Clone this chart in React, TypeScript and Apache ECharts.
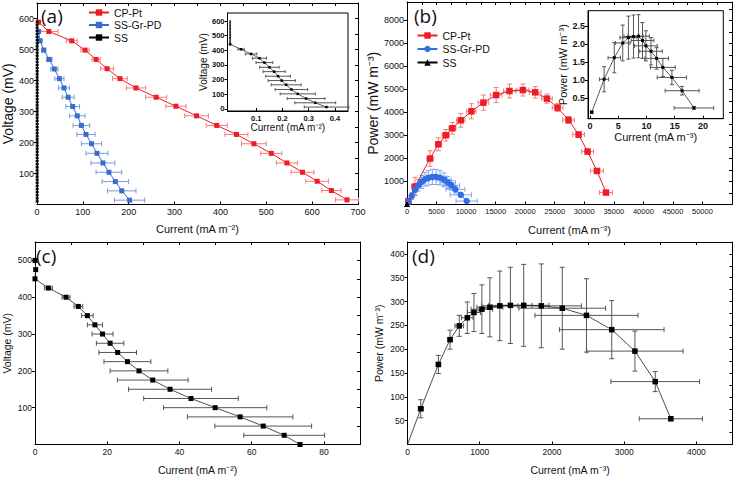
import React, { useEffect, useRef } from 'react';
import * as echarts from 'echarts';

// ---------------- Panel (a): polarization (main) ----------------
const aCpPtCurrent = [3.6, 26, 76, 105, 129, 153, 181, 216, 260, 303, 348, 392, 435, 473, 511, 545, 579, 611, 642, 676];
const aCpPtVoltage = [588, 558, 528, 498, 468, 438, 406, 376, 346, 317, 286, 255, 226, 196, 165, 134, 104, 75, 45, 15];
const aCpPtErr = [0, 20, 12, 9, 9, 14, 16, 21, 23, 22, 26, 23, 25, 27, 23, 23, 25, 25, 21, 25];

const aGrCurrent = [3.6, 7, 15, 27, 38, 49, 59, 68, 78, 88, 97, 107, 119, 131, 144, 157, 171, 185, 202];
const aGrVoltage = [558, 528, 498, 468, 437, 406, 376, 346, 316, 286, 255, 226, 196, 165, 134, 104, 74, 44, 14];
const aGrErr = [0, 2.5, 4, 6, 8, 10, 12, 13, 15, 17, 18, 20, 22, 24, 26, 28, 29, 31, 33];

const aSsVoltage = [590, 580, 570, 560, 550, 540, 530, 520, 510, 500, 490, 480, 470, 460, 450, 440, 430, 420, 410, 400, 390, 380, 370, 360, 350, 340, 330, 320, 310, 300, 290, 280, 270, 260, 250, 240, 230, 220, 210, 200, 190, 180, 170, 160, 150, 140, 130, 120, 110, 100, 90, 80, 70, 60, 50, 40, 30, 20, 10];

// ---------------- Panel (a) inset: SS ----------------
const aiCurrent = [0, 0.042, 0.08, 0.112, 0.131, 0.15, 0.168, 0.183, 0.197, 0.214, 0.234, 0.258, 0.29, 0.325, 0.368];
const aiVoltage = [441, 407, 375, 346, 316, 284, 254, 223, 193, 164, 132, 102, 70, 41, 12];
const aiErr = [0, 0.012, 0.022, 0.027, 0.032, 0.037, 0.042, 0.047, 0.052, 0.057, 0.062, 0.067, 0.072, 0.078, 0.085];
const aiOcvVoltage = [600, 590, 580, 570, 560, 550, 540, 530, 520, 510, 500, 490, 480, 470, 460, 450];

// ---------------- Panel (b): power (main) ----------------
const bCpPtCurrent = [250, 1356, 3900, 5310, 6560, 7680, 9100, 10900, 12930, 15090, 17340, 19610, 21700, 23680, 25480, 27340, 29040, 30560, 32150, 33680];
const bCpPtPower = [150, 781, 1997, 2617, 3008, 3312, 3659, 4050, 4427, 4757, 4931, 4974, 4874, 4600, 4210, 3672, 3038, 2300, 1458, 520];
const bCpPtXErr = [200, 600, 500, 500, 600, 600, 700, 800, 900, 1000, 1000, 1000, 1000, 900, 900, 1000, 1000, 1000, 1100, 1100];
const bCpPtYErr = [100, 400, 340, 280, 250, 250, 300, 330, 330, 330, 300, 260, 250, 200, 170, 150, 120, 100, 90, 80];

const bGrCurrent = [220, 800, 1356, 1920, 2490, 3050, 3610, 4290, 4916, 5590, 6270, 6900, 7500, 8200, 9100, 10100];
const bGrPower = [113, 373, 634, 838, 981, 1098, 1155, 1198, 1198, 1160, 1080, 960, 830, 660, 420, 150];
const bGrXErr = [150, 300, 400, 500, 600, 700, 800, 900, 1000, 1100, 1200, 1300, 1400, 1600, 1800, 1800];
const bGrYErr = [60, 150, 200, 250, 280, 300, 320, 330, 330, 310, 290, 260, 210, 160, 100, 50];

// ---------------- Panel (b) inset: SS ----------------
const biCurrent = [0.3, 2.5, 4.3, 5.8, 6.8, 7.7, 8.6, 9.3, 9.9, 10.8, 11.8, 12.9, 14.5, 16.3, 18.4];
const biPower = [0.1, 1.02, 1.62, 2.03, 2.18, 2.21, 2.22, 2.1, 1.95, 1.8, 1.6, 1.35, 1.07, 0.7, 0.22];
const biXErr = [0.2, 0.8, 1.1, 1.3, 1.5, 1.7, 1.9, 2.0, 2.0, 2.0, 2.1, 2.2, 2.6, 3.0, 3.5];
const biYErr = [0.03, 0.35, 0.42, 0.5, 0.6, 0.6, 0.6, 0.5, 0.42, 0.38, 0.3, 0.25, 0.2, 0.12, 0.04];

// ---------------- Panel (c) ----------------
const cCurrent = [0, 0.2, 0, 3.7, 8.6, 12, 14.5, 16.6, 18.7, 20.8, 22.9, 25.6, 28.8, 32.6, 37.4, 43.2, 49.9, 56.8, 63.2, 69, 73.4];
const cVoltage = [500, 475, 450, 425, 400, 375, 350, 325, 300, 275, 250, 225, 200, 175, 150, 125, 100, 75, 50, 25, 0];
const cErr = [0, 0, 0, 1.1, 1.1, 1.2, 1.6, 2.1, 2.9, 3.8, 5.2, 6.5, 8, 9.8, 11.5, 13.1, 14.3, 14.6, 13.4, 11.2, 0];

// ---------------- Panel (d) ----------------
const dCurrent = [0, 184, 428, 589, 717, 828, 920, 1030, 1140, 1278, 1425, 1609, 1853, 2143, 2478, 2828, 3149, 3430, 3646];
const dPower = [0, 75, 168, 220, 249, 266, 277, 284, 288, 291, 292, 292, 291, 286, 271, 241, 196, 132, 54];
const dXErr = [0, 35, 30, 30, 60, 80, 90, 150, 180, 250, 300, 350, 555, 600, 713, 724, 667, 614, 437];
const dYErr = [0, 19, 19, 20, 22, 33, 40, 51, 62, 73, 80, 86, 88, 86, 77, 61, 42, 21, 4];

// ---------------- Tick labels ----------------
const aXTicks = [0, 100, 200, 300, 400, 500, 600, 700];
const aYTicks = [100, 200, 300, 400, 500, 600];
const aiXTicks = [0.1, 0.2, 0.3, 0.4];
const aiYTicks = [0, 100, 200, 300, 400, 500, 600];
const bXTicks = [0, 5000, 10000, 15000, 20000, 25000, 30000, 35000, 40000, 45000, 50000];
const bYTicks = [1000, 2000, 3000, 4000, 5000, 6000, 7000, 8000];
const biXTicks = [0, 5, 10, 15, 20];
const biYTicks = [0.5, 1.0, 1.5, 2.0, 2.5];
const cXTicks = [0, 20, 40, 60, 80];
const cYTicks = [100, 200, 300, 400, 500];
const dXTicks = [0, 1000, 2000, 3000, 4000];
const dYTicks = [50, 100, 150, 200, 250, 300, 350, 400];

const FONT = "'Liberation Sans', Arial, sans-serif";
const RED = '#ee1c25';
const RED_ERR = '#f27c7c';
const BLUE_A = '#3a6ccf';
const BLUE_A_ERR = '#7b9bdc';
const BLUE_B = '#2f6fe4';
const BLUE_B_ERR = '#86a5e8';
const GREY_ERR = '#555';

// axis indices (x and y arrays are built in the same order)
const AX_A = 0, AX_B = 2, AX_C = 4, AX_D = 6, AX_AI = 8, AX_BI = 9;

const steps = (a: number, b: number, s: number) => {
  const r: number[] = [];
  for (let v = a; v <= b + 1e-9; v += s) r.push(+v.toFixed(6));
  return r;
};

const line = { show: true, onZero: false, lineStyle: { color: '#000', width: 1 } };

function xBottom(grid: number, min: number, max: number, ticks: number[], name: string, nameGap: number, nameSize: number, labelSize: number, bold = false, fmt = (v: number) => String(v)) {
  return {
    type: 'value', gridIndex: grid, position: 'bottom', min, max,
    axisLine: line,
    axisTick: { show: true, inside: true, length: 3, customValues: ticks, lineStyle: { color: '#000' } },
    axisLabel: { show: true, customValues: ticks, margin: 3, fontSize: labelSize, fontWeight: bold ? 'bold' : 'normal', color: '#111', fontFamily: FONT, formatter: fmt },
    splitLine: { show: false },
    name, nameLocation: 'middle', nameGap,
    nameTextStyle: { fontSize: nameSize, color: '#111', fontFamily: FONT },
  };
}
function yLeft(grid: number, min: number, max: number, ticks: number[], name: string, nameGap: number, nameSize: number, labelSize: number, bold = false, fmt = (v: number) => String(v)) {
  return {
    type: 'value', gridIndex: grid, position: 'left', min, max,
    axisLine: line,
    axisTick: { show: true, inside: false, length: 3, customValues: ticks, lineStyle: { color: '#000' } },
    axisLabel: { show: true, customValues: ticks, margin: 3, fontSize: labelSize, fontWeight: bold ? 'bold' : 'normal', color: '#111', fontFamily: FONT, formatter: fmt },
    splitLine: { show: false },
    name, nameLocation: 'middle', nameGap,
    nameTextStyle: { fontSize: nameSize, color: '#111', fontFamily: FONT },
  };
}
function xTop(grid: number, min: number, max: number, ticks: number[]) {
  return {
    type: 'value', gridIndex: grid, position: 'top', min, max,
    axisLine: line,
    axisTick: { show: true, inside: true, length: 3, customValues: ticks, lineStyle: { color: '#000' } },
    axisLabel: { show: false },
    splitLine: { show: false },
  };
}
function yRight(grid: number, min: number, max: number, ticks: number[]) {
  return {
    type: 'value', gridIndex: grid, position: 'right', min, max,
    axisLine: line,
    axisTick: { show: true, inside: true, length: 3, customValues: ticks, lineStyle: { color: '#000' } },
    axisLabel: { show: false },
    splitLine: { show: false },
  };
}

function lineSeries(name: string, ax: number, xs: number[], ys: number[], color: string, symbol: string, size: any, extra: any = {}) {
  return {
    type: 'line', name, xAxisIndex: ax, yAxisIndex: ax,
    data: xs.map((x, i) => [x, ys[i]]),
    symbol, symbolSize: size, showSymbol: true,
    lineStyle: { color, width: 1 }, itemStyle: { color },
    z: 3,
    ...extra,
  };
}

function errSeries(ax: number, xs: number[], ys: number[], exs: number[] | null, eys: number[] | null, color: string, cap = 2.5) {
  return {
    type: 'custom', xAxisIndex: ax, yAxisIndex: ax, silent: true, z: 1,
    data: xs.map((x, i) => [x, ys[i], exs ? exs[i] : 0, eys ? eys[i] : 0]),
    encode: { x: 0, y: 1 },
    renderItem: (_p: any, api: any) => {
      const x = api.value(0), y = api.value(1), ex = api.value(2), ey = api.value(3);
      const st = { stroke: color, lineWidth: 1, fill: 'none' };
      const ch: any[] = [];
      const seg = (x1: number, y1: number, x2: number, y2: number) => ch.push({ type: 'line', shape: { x1, y1, x2, y2 }, style: st });
      if (ex > 0) {
        const l = api.coord([x - ex, y]);
        const r = api.coord([x + ex, y]);
        seg(l[0], l[1], r[0], r[1]);
        seg(l[0], l[1] - cap, l[0], l[1] + cap);
        seg(r[0], r[1] - cap, r[0], r[1] + cap);
      }
      if (ey > 0) {
        const t = api.coord([x, y + ey]);
        const b = api.coord([x, y - ey]);
        seg(t[0], t[1], b[0], b[1]);
        seg(t[0] - cap, t[1], t[0] + cap, t[1]);
        seg(b[0] - cap, b[1], b[0] + cap, b[1]);
      }
      return { type: 'group', children: ch };
    },
  };
}

function buildOption() {
  const fmt1 = (v: number) => v.toFixed(1);
  const insetGrid = { show: true, borderColor: '#000', borderWidth: 1, backgroundColor: '#fff' };
  const panelFont = "'Open Sans', sans-serif";
  return {
    animation: false,
    backgroundColor: '#fff',
    grid: [
      { left: 32, top: 3, width: 326, height: 201.5 },
      { left: 407, top: 2, width: 325, height: 202.5 },
      { left: 35, top: 242, width: 325, height: 202.5 },
      { left: 407.5, top: 242, width: 325, height: 202.5 },
      { left: 227.5, top: 13, width: 120.5, height: 98, ...insetGrid },
      { left: 588, top: 10.7, width: 135.3, height: 108, ...insetGrid },
    ],
    xAxis: [
      xBottom(0, 0, 700, aXTicks, 'Current (mA m⁻²)', 19, 11, 9),
      xTop(0, 0, 700, steps(0, 700, 50)),
      xBottom(1, 0, 55000, bXTicks, 'Current (mA m⁻³)', 20, 11, 7.5),
      xTop(1, 0, 55000, steps(0, 55000, 2500)),
      xBottom(2, 0, 90, cXTicks, 'Current (mA m⁻²)', 20, 10.5, 8.5),
      xTop(2, 0, 90, steps(0, 90, 10)),
      xBottom(3, 0, 4500, dXTicks, 'Current (mA m⁻³)', 20, 10.5, 8.5),
      xTop(3, 0, 4500, steps(0, 4500, 500)),
      xBottom(4, -0.01, 0.45, aiXTicks, 'Current (mA m⁻²)', 10, 10, 7.5, true, fmt1),
      xBottom(5, -0.35, 23.6, biXTicks, 'Current (mA m⁻³)', 12, 11, 9, true),
    ],
    yAxis: [
      yLeft(0, 0, 650, aYTicks, 'Voltage (mV)', 19, 14, 9),
      yRight(0, 0, 650, steps(0, 650, 50)),
      yLeft(1, 0, 8800, bYTicks, 'Power (mW m⁻³)', 22, 14, 9),
      yRight(1, 0, 8800, steps(0, 8800, 500)),
      yLeft(2, 0, 550, cYTicks, 'Voltage (mV)', 23, 10.5, 8.5),
      yRight(2, 0, 550, steps(0, 550, 50)),
      yLeft(3, 0, 425, dYTicks, 'Power (mW m⁻³)', 23, 10.5, 8.5),
      yRight(3, 0, 425, steps(0, 425, 25)),
      yLeft(4, -15, 655, aiYTicks, 'Voltage (mV)', 18, 10, 7.5, true),
      yLeft(5, -0.08, 2.93, biYTicks, 'Power (mW m⁻³)', 20, 11, 9, true, fmt1),
    ],
    legend: [
      {
        left: 88, top: 6.5, orient: 'vertical', itemWidth: 20, itemHeight: 8, itemGap: 0.5, padding: 0,
        selectedMode: false, data: ['CP-Pt', 'SS-Gr-PD', 'SS'],
        textStyle: { fontSize: 10.5, fontFamily: FONT, color: '#111', lineHeight: 12 },
      },
      {
        left: 416.5, top: 29.5, orient: 'vertical', itemWidth: 20, itemHeight: 8, itemGap: 1.5, padding: 0,
        selectedMode: false, data: ['CP-Pt\u200b', 'SS-Gr-PD\u200b', 'SS\u200b'],
        textStyle: { fontSize: 10.5, fontFamily: FONT, color: '#111', lineHeight: 12 },
      },
    ],
    graphic: [
      { type: 'text', left: 41, top: 6, style: { text: '(a)', fontSize: 19, fontFamily: panelFont, fill: '#111' } },
      { type: 'text', left: 414, top: 6, style: { text: '(b)', fontSize: 19, fontFamily: panelFont, fill: '#111' } },
      { type: 'text', left: 36, top: 246, style: { text: '(c)', fontSize: 19, fontFamily: panelFont, fill: '#111' } },
      { type: 'text', left: 412, top: 246, style: { text: '(d)', fontSize: 19, fontFamily: panelFont, fill: '#111' } },
    ],
    series: [
      // (a)
      errSeries(AX_A, aCpPtCurrent, aCpPtVoltage, aCpPtErr, null, RED_ERR, 2.5),
      errSeries(AX_A, aGrCurrent, aGrVoltage, aGrErr, null, BLUE_A_ERR, 2.5),
      lineSeries('CP-Pt', AX_A, aCpPtCurrent, aCpPtVoltage, RED, 'rect', 5),
      lineSeries('SS-Gr-PD', AX_A, aGrCurrent, aGrVoltage, BLUE_A, 'rect', 5),
      lineSeries('SS', AX_A, aSsVoltage.map(() => 0.5), aSsVoltage, '#000', 'rect', [3, 2.2]),
      // (a) inset
      lineSeries('ssOcv', AX_AI, aiOcvVoltage.map(() => 0), aiOcvVoltage, '#000', 'rect', 1.5, { lineStyle: { width: 0, color: '#000' } }),
      errSeries(AX_AI, aiCurrent, aiVoltage, aiErr, null, GREY_ERR, 1.5),
      lineSeries('ssInset', AX_AI, aiCurrent, aiVoltage, '#000', 'rect', 2.5, { lineStyle: { width: 0.8, color: '#333' } }),
      // (b)
      errSeries(AX_B, bCpPtCurrent, bCpPtPower, bCpPtXErr, bCpPtYErr, RED_ERR, 2.5),
      errSeries(AX_B, bGrCurrent, bGrPower, bGrXErr, bGrYErr, BLUE_B_ERR, 2.5),
      lineSeries('CP-Pt\u200b', AX_B, bCpPtCurrent, bCpPtPower, RED, 'rect', 6.5),
      lineSeries('SS-Gr-PD\u200b', AX_B, bGrCurrent, bGrPower, BLUE_B, 'circle', 6.5),
      lineSeries('SS\u200b', AX_B, biCurrent, biPower, '#000', 'triangle', 5),
      // (b) inset
      errSeries(AX_BI, biCurrent, biPower, biXErr, biYErr, GREY_ERR, 2),
      lineSeries('ssInsetB', AX_BI, biCurrent, biPower, '#000', 'rect', 3, { lineStyle: { width: 0.8, color: '#333' } }),
      // (c)
      errSeries(AX_C, cCurrent, cVoltage, cErr, null, GREY_ERR, 2.5),
      lineSeries('c', AX_C, cCurrent, cVoltage, '#000', 'rect', 5, { lineStyle: { width: 0.8, color: '#222' } }),
      // (d)
      errSeries(AX_D, dCurrent, dPower, dXErr, dYErr, GREY_ERR, 2.5),
      {
        ...lineSeries('d', AX_D, dCurrent, dPower, '#000', 'rect', 5.5, { lineStyle: { width: 0.8, color: '#222' } }),
        data: dCurrent.map((x, i) => (i === 0 ? { value: [x, dPower[i]], symbol: 'none' } : [x, dPower[i]])),
      },
    ],
  };
}

export default function App() {
  const ref = useRef<HTMLDivElement>(null);
  useEffect(() => {
    const chart = echarts.init(ref.current!, null, { renderer: 'svg' });
    chart.setOption(buildOption() as any);
    return () => chart.dispose();
  }, []);
  return (
    <div
      ref={ref}
      style={{ position: 'absolute', left: 0, top: 0, width: 734, height: 477, background: '#fff' }}
    />
  );
}
